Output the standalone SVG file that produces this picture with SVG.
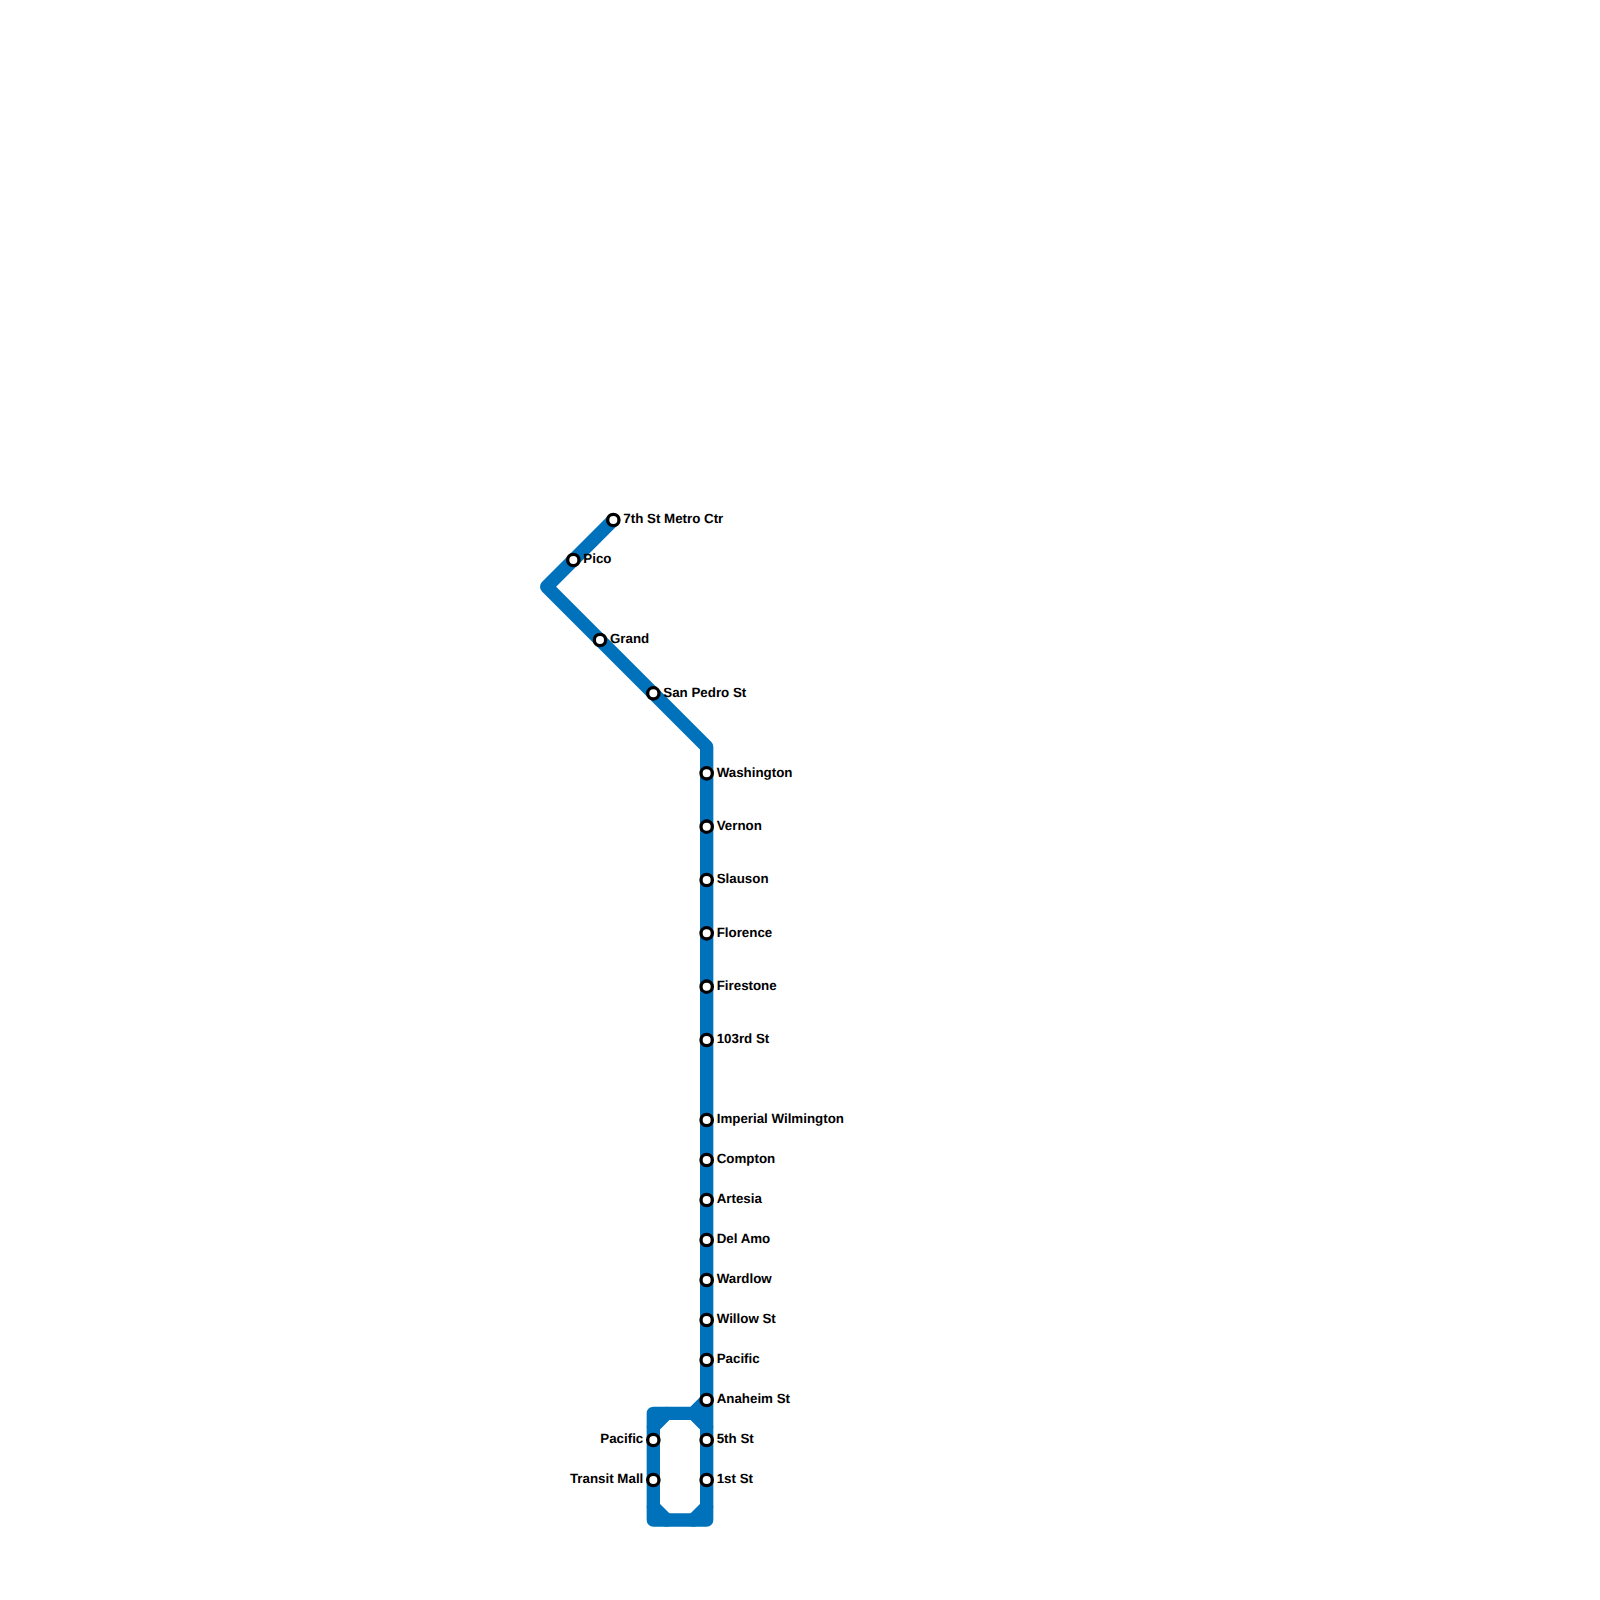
<svg xmlns="http://www.w3.org/2000/svg" width="1600" height="1600" viewBox="0 0 1600 1600">
<style>
.line{fill:none;stroke:#0072bc;stroke-width:13.33;stroke-linecap:round;stroke-linejoin:round}
.st{fill:#fff;stroke:#000;stroke-width:3.33}
text{font-family:"Liberation Sans",Arial,sans-serif;font-weight:bold;font-size:13.33px;fill:#000;text-rendering:geometricPrecision}
.l{text-anchor:end}
</style>
<rect width="1600" height="1600" fill="#fff"/>
<g id="connectors">
<path class="line" d="M613.33 520L546.67 586.67L706.67 746.67V1520H653.33V1413.33H693.33L706.67 1400"/>
<path class="line" d="M693.33 1413.33L706.67 1426.67M653.33 1426.67L666.67 1413.33M653.33 1506.67L666.67 1520M693.33 1520L706.67 1506.67"/>
</g>
<g id="n1"><circle class="st" cx="613.33" cy="520" r="5.67"/><text x="623.3" y="523.2">7th St Metro Ctr</text></g>
<g id="n2"><circle class="st" cx="573.33" cy="560" r="5.67"/><text x="583.3" y="563.2">Pico</text></g>
<g id="n3"><circle class="st" cx="600" cy="640" r="5.67"/><text x="610" y="643.2">Grand</text></g>
<g id="n4"><circle class="st" cx="653.33" cy="693.33" r="5.67"/><text x="663.3" y="696.5">San Pedro St</text></g>
<g id="n5"><circle class="st" cx="706.67" cy="773.33" r="5.67"/><text x="716.7" y="776.5">Washington</text></g>
<g id="n6"><circle class="st" cx="706.67" cy="826.67" r="5.67"/><text x="716.7" y="829.9">Vernon</text></g>
<g id="n7"><circle class="st" cx="706.67" cy="880" r="5.67"/><text x="716.7" y="883.2">Slauson</text></g>
<g id="n8"><circle class="st" cx="706.67" cy="933.33" r="5.67"/><text x="716.7" y="936.5">Florence</text></g>
<g id="n9"><circle class="st" cx="706.67" cy="986.67" r="5.67"/><text x="716.7" y="989.9">Firestone</text></g>
<g id="n10"><circle class="st" cx="706.67" cy="1040" r="5.67"/><text x="716.7" y="1043.2">103rd St</text></g>
<g id="n11"><circle class="st" cx="706.67" cy="1120" r="5.67"/><text x="716.7" y="1123.2">Imperial Wilmington</text></g>
<g id="n12"><circle class="st" cx="706.67" cy="1160" r="5.67"/><text x="716.7" y="1163.2">Compton</text></g>
<g id="n13"><circle class="st" cx="706.67" cy="1200" r="5.67"/><text x="716.7" y="1203.2">Artesia</text></g>
<g id="n14"><circle class="st" cx="706.67" cy="1240" r="5.67"/><text x="716.7" y="1243.2">Del Amo</text></g>
<g id="n15"><circle class="st" cx="706.67" cy="1280" r="5.67"/><text x="716.7" y="1283.2">Wardlow</text></g>
<g id="n16"><circle class="st" cx="706.67" cy="1320" r="5.67"/><text x="716.7" y="1323.2">Willow St</text></g>
<g id="n17"><circle class="st" cx="706.67" cy="1360" r="5.67"/><text x="716.7" y="1363.2">Pacific</text></g>
<g id="n18"><circle class="st" cx="706.67" cy="1400" r="5.67"/><text x="716.7" y="1403.2">Anaheim St</text></g>
<g id="n19"><circle class="st" cx="706.67" cy="1440" r="5.67"/><text x="716.7" y="1443.2">5th St</text></g>
<g id="n20"><circle class="st" cx="706.67" cy="1480" r="5.67"/><text x="716.7" y="1483.2">1st St</text></g>
<g id="n21"><circle class="st" cx="653.33" cy="1440" r="5.67"/><text class="l" x="643.3" y="1443.2">Pacific</text></g>
<g id="n22"><circle class="st" cx="653.33" cy="1480" r="5.67"/><text class="l" x="643.3" y="1483.2">Transit Mall</text></g>
</svg>
